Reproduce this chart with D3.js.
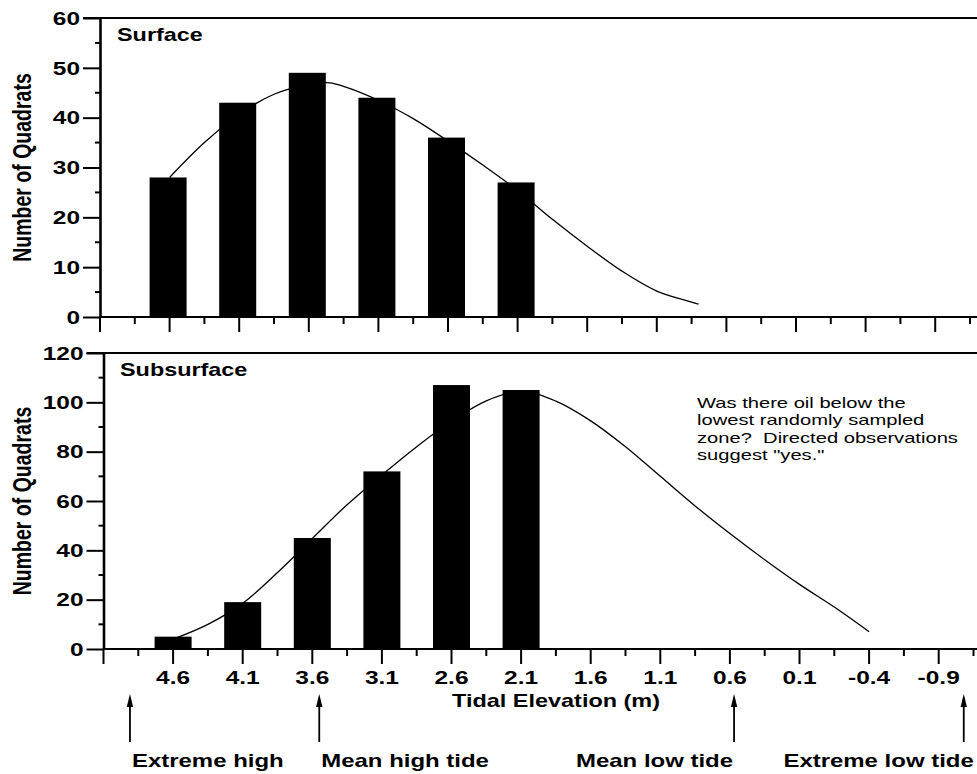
<!DOCTYPE html>
<html lang="en">
<head>
<meta charset="utf-8">
<title>Oiled quadrats by tidal elevation</title>
<script src="https://cdnjs.cloudflare.com/ajax/libs/d3/7.8.5/d3.min.js"></script>
<style>
  body { margin: 0; background: #fff; }
  svg text { font-family: "Liberation Sans", Arial, Helvetica, sans-serif; fill: #000; }
</style>
</head>
<body>
<script>
// bars
var elevations = [4.6, 4.1, 3.6, 3.1, 2.6, 2.1];
var surfaceCounts = [28, 43, 49, 44, 36, 27];
var subsurfaceCounts = [5, 19, 45, 72, 107, 105];

// fitted curves (elevation m, count)
var surfaceCurveX = [4.6, 4.35, 4.1, 3.85, 3.6, 3.45, 3.35, 3.1, 2.85, 2.6, 2.35, 2.1, 1.85, 1.6, 1.35, 1.1, 0.85, 0.8];
var surfaceCurveY = [28, 35, 40.7, 44.7, 46.7, 47, 46.3, 43.5, 39.8, 35.3, 30.5, 25.4, 19.6, 14.2, 9.2, 5.2, 3.0, 2.6];
var subsurfaceCurveX = [4.6, 4.35, 4.1, 3.85, 3.6, 3.35, 3.1, 2.85, 2.6, 2.35, 2.1, 1.85, 1.6, 1.35, 1.1, 0.85, 0.6, 0.35, 0.1, -0.15, -0.4];
var subsurfaceCurveY = [4, 10, 18.5, 31, 44.8, 58.5, 70.5, 82, 92.3, 100.6, 104.5, 100.5, 92.5, 82, 70, 58, 46.8, 36.2, 26.2, 17, 7];

// axes
var surfaceYTicks = [0, 10, 20, 30, 40, 50, 60];
var subsurfaceYTicks = [0, 20, 40, 60, 80, 100, 120];
var xLabelValues = [4.6, 4.1, 3.6, 3.1, 2.6, 2.1, 1.6, 1.1, 0.6, 0.1, -0.4, -0.9];
var xLabelText = ["4.6", "4.1", "3.6", "3.1", "2.6", "2.1", "1.6", "1.1", "0.6", "0.1", "-0.4", "-0.9"];

// tide reference marks
var tideNames = ["Extreme high", "Mean high tide", "Mean low tide", "Extreme low tide"];
var tideElevations = [4.91, 3.55, 0.57, -1.08];

var noteLines = ["Was there oil below the", "lowest randomly sampled", "zone?  Directed observations", "suggest \"yes.\""];

var width = 977, height = 774;

var svg = d3.select("body").append("svg")
    .attr("width", width)
    .attr("height", height);

// bold, horizontally widened text like the scanned original
function label(sel, size, sx) {
    return sel.style("font-size", size + "px")
        .style("font-weight", "bold")
        .attr("data-sx", sx);
}

function drawPanel(p) {
    var g = svg.append("g").attr("transform", "translate(" + p.x0 + ",0)");

    var x = d3.scaleLinear().domain([5.1, -1.35]).range([0, 6.45 * 139.2]);
    var y = d3.scaleLinear().domain([0, p.yMax]).range([p.yBase, p.yTop]);

    // bars
    g.selectAll("rect.bar")
        .data(p.counts)
        .enter().append("rect")
        .attr("class", "bar")
        .attr("x", function(d, i) { return x(elevations[i]) - 18.5 + p.barShift; })
        .attr("width", 37)
        .attr("y", function(d) { return y(d); })
        .attr("height", function(d) { return p.yBase - y(d); })
        .attr("fill", "#000");

    // fitted curve
    var pts = p.curveX.map(function(e, i) { return [e, p.curveY[i]]; });
    var line = d3.line()
        .x(function(d) { return x(d[0]); })
        .y(function(d) { return y(d[1]); })
        .curve(d3.curveCatmullRom.alpha(0.5));
    g.append("path")
        .attr("d", line(pts))
        .attr("fill", "none")
        .attr("stroke", "#000")
        .attr("stroke-width", 1.3);

    // top line and baseline run to the page edge
    g.append("line")
        .attr("x1", -17).attr("x2", width - p.x0)
        .attr("y1", p.yTop).attr("y2", p.yTop)
        .attr("stroke", "#000").attr("stroke-width", 2.2);
    g.append("line")
        .attr("x1", 0).attr("x2", width - p.x0)
        .attr("y1", p.yBase).attr("y2", p.yBase)
        .attr("stroke", "#000").attr("stroke-width", 2.2);

    // y axis
    var yAxis = d3.axisLeft(y).tickValues(p.yTicks).tickSize(17).tickSizeOuter(0).tickPadding(3);
    var ya = g.append("g").call(yAxis);
    ya.select(".domain").attr("stroke-width", 2.6);
    ya.selectAll(".tick line").attr("stroke-width", 2);
    label(ya.selectAll(".tick text"), 17.5, 1.4)
        .attr("x", null).attr("dy", null)
        .attr("transform", "translate(-20,6.3) scale(1.4,1)")
        .style("font-family", null);

    var step = p.yTicks[1] - p.yTicks[0];
    g.selectAll("line.yminor")
        .data(p.yTicks.slice(0, -1))
        .enter().append("line")
        .attr("x1", -5).attr("x2", 0)
        .attr("y1", function(d) { return y(d + step / 2); })
        .attr("y2", function(d) { return y(d + step / 2); })
        .attr("stroke", "#000").attr("stroke-width", 2);

    // x ticks, every 0.25 m, major every 0.5 m
    g.selectAll("line.xtick")
        .data(d3.range(0, 26))
        .enter().append("line")
        .attr("x1", function(i) { return x(5.1 - i * 0.25); })
        .attr("x2", function(i) { return x(5.1 - i * 0.25); })
        .attr("y1", p.yBase)
        .attr("y2", function(i) { return p.yBase + (i % 2 === 0 ? 15 : 7); })
        .attr("stroke", "#000").attr("stroke-width", 2);

    if (p.labels) {
        label(g.selectAll("text.xlab")
            .data(xLabelValues)
            .enter().append("text"), 17.5, 1.4)
            .attr("transform", function(d) {
                return "translate(" + x(d) + "," + (p.yBase + 35) + ") scale(1.4,1)";
            })
            .attr("text-anchor", "middle")
            .text(function(d, i) { return xLabelText[i]; });
    }

    // panel title
    label(g.append("text"), 18, 1.3)
        .attr("transform", "translate(" + p.titleX + "," + p.titleY + ") scale(1.3,1)")
        .text(p.title);

    // y axis title
    label(svg.append("text"), 19.5, 1.3)
        .attr("transform", "translate(31," + (p.yTop + p.yBase) / 2 + ") rotate(-90) scale(1,1.3)")
        .attr("text-anchor", "middle")
        .text("Number of Quadrats");

    return x;
}

drawPanel({
    x0: 100, yTop: 18, yBase: 317, yMax: 60, barShift: -1.5,
    yTicks: surfaceYTicks, counts: surfaceCounts,
    curveX: surfaceCurveX, curveY: surfaceCurveY,
    title: "Surface", titleX: 17, titleY: 41, labels: false
});

var xb = drawPanel({
    x0: 103.5, yTop: 353, yBase: 649, yMax: 120, barShift: 0,
    yTicks: subsurfaceYTicks, counts: subsurfaceCounts,
    curveX: subsurfaceCurveX, curveY: subsurfaceCurveY,
    title: "Subsurface", titleX: 16.5, titleY: 376, labels: true
});

// x axis title
label(svg.append("text"), 17.5, 1.34)
    .attr("transform", "translate(556,707) scale(1.34,1)")
    .attr("text-anchor", "middle")
    .text("Tidal Elevation (m)");

// tide arrows and labels
var tides = svg.append("g").attr("transform", "translate(103.5,0)");
tideElevations.forEach(function(e, i) {
    var ax = xb(e);
    tides.append("line")
        .attr("x1", ax).attr("x2", ax)
        .attr("y1", 742).attr("y2", 704)
        .attr("stroke", "#000").attr("stroke-width", 1.8);
    tides.append("path")
        .attr("d", "M" + ax + ",694 L" + (ax - 3.2) + ",707 L" + (ax + 3.2) + ",707 Z")
        .attr("fill", "#000");
    label(tides.append("text"), 17.5, 1.37)
        .attr("transform", "translate(" + (i < 2 ? ax + 2 : ax + (i === 3 ? 10 : -1)) + ",767) scale(1.37,1)")
        .attr("text-anchor", i < 2 ? "start" : "end")
        .text(tideNames[i]);
});

// annotation
var note = svg.append("text")
    .attr("transform", "translate(697,408) scale(1.44,1)")
    .style("font-size", "14px")
    .style("white-space", "pre");
note.selectAll("tspan")
    .data(noteLines)
    .enter().append("tspan")
    .attr("x", 0)
    .attr("dy", function(d, i) { return i === 0 ? 0 : 17.3; })
    .text(function(d) { return d; });
</script>
</body>
</html>
